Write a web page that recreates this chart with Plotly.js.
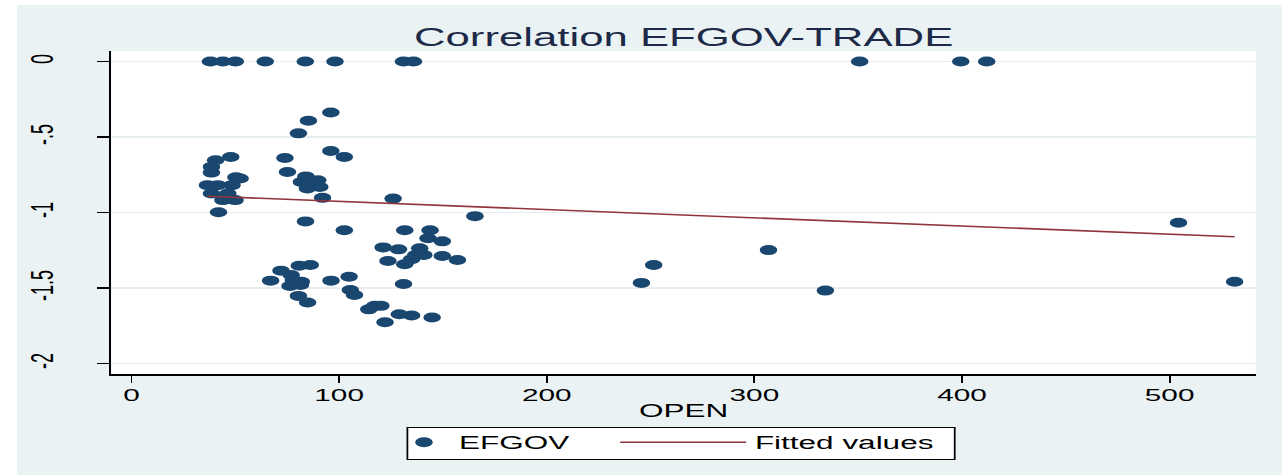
<!DOCTYPE html>
<html>
<head>
<meta charset="utf-8">
<script src="https://cdn.plot.ly/plotly-3.0.1.min.js"></script>
<style>
  html, body { margin: 0; padding: 0; background: #ffffff; overflow: hidden; }
  #chart {
    position: absolute; left: 17px; top: 5px;
    width: 723px; height: 470px;
    transform: scaleX(1.7497); transform-origin: 0 0;
  }
</style>
</head>
<body>
<div id="chart"></div>
<script>
// ---- data ----
const openVals = [
  38, 44, 50, 64.4, 83.7, 98, 131, 135.8, 350.7, 399.4, 411.9,
  96, 85.2, 80.4, 96, 102.5, 73.9, 47.8, 40.5, 38.5, 38.5,
  75.1, 50.3, 52.3, 84, 89.7, 81.8, 36.6, 41.5, 48.4, 84.7,
  90.7, 86.5, 38.5, 46.4, 92, 44, 49.9, 126, 41.9, 83.8,
  165.4, 102.5, 131.6, 143.8, 142.8, 149.7, 138.8, 136.9, 140.8, 121.2,
  128.6, 149.7, 157, 123.5, 131.6, 134.9, 86.1, 80.8, 72, 67,
  76.9, 77.9, 81.8, 76.3, 81.4, 96.1, 104.8, 105.4, 107.4, 80.4,
  84.8, 131, 114.3, 117.2, 120.1, 122.1, 129, 134.9, 144.8, 245.6,
  251.5, 306.8, 334.2, 504.3, 531.3
];
const efgovVals = [
  0, 0, 0, 0, 0, 0, 0, 0, 0, 0, 0,
  -0.337, -0.392, -0.475, -0.592, -0.632, -0.638, -0.632, -0.653, -0.697, -0.735,
  -0.731, -0.766, -0.774, -0.76, -0.785, -0.797, -0.818, -0.818, -0.818, -0.84,
  -0.83, -0.81, -0.873, -0.873, -0.902, -0.917, -0.917, -0.907, -0.997, -1.058,
  -1.023, -1.116, -1.116, -1.116, -1.17, -1.19, -1.236, -1.28, -1.28, -1.23,
  -1.243, -1.287, -1.313, -1.32, -1.342, -1.309, -1.347, -1.351, -1.384, -1.45,
  -1.413, -1.446, -1.457, -1.485, -1.479, -1.45, -1.424, -1.512, -1.545, -1.551,
  -1.595, -1.472, -1.64, -1.617, -1.617, -1.725, -1.672, -1.681, -1.694, -1.465,
  -1.347, -1.248, -1.516, -1.067, -1.457
];
const fitOpen = [36.6, 531.3];
const fitValues = [-0.891, -1.160];

const xTickVals = [0, 100, 200, 300, 400, 500];
const xTickText = ['0', '100', '200', '300', '400', '500'];
const yTickVals = [0, -0.5, -1, -1.5, -2];
const yTickText = ['0', '-.5', '-1', '-1.5', '-2'];

const seriesNames = ['EFGOV', 'Fitted values'];
const chartTitle = 'Correlation EFGOV-TRADE';
const xTitle = 'OPEN';

const FONT = 'Liberation Sans, Arial, Helvetica, sans-serif';

const traces = [
  {
    type: 'scatter', mode: 'markers', name: seriesNames[0],
    x: openVals, y: efgovVals,
    marker: { color: '#1a476f', size: 10, line: { width: 0 } },
    legend: 'legend', hoverinfo: 'skip'
  },
  {
    type: 'scatter', mode: 'lines', name: seriesNames[1],
    x: fitOpen, y: fitValues,
    line: { color: '#90353b', width: 1.6 },
    legend: 'legend2', hoverinfo: 'skip'
  }
];

const layout = {
  width: 723, height: 470,
  margin: { l: 54.47, r: 14.9, t: 45.5, b: 100.7, pad: 0 },
  paper_bgcolor: '#eaf2f3',
  plot_bgcolor: '#ffffff',
  font: { family: FONT, color: '#000000' },
  title: {
    text: chartTitle,
    font: { family: FONT, size: 25, color: '#1c2a48' },
    x: 0.5, xref: 'paper', xanchor: 'center',
    y: 0.932, yref: 'container', yanchor: 'middle'
  },
  xaxis: {
    range: [-9.64, 541.5], autorange: false,
    showgrid: false, zeroline: false,
    showline: true, linecolor: '#000000', linewidth: 1.5,
    ticks: 'outside', ticklen: 7, tickwidth: 1.1, tickcolor: '#000000',
    tickvals: xTickVals, ticktext: xTickText,
    tickfont: { family: FONT, size: 17, color: '#000000' },
    ticklabelstandoff: -2,
    title: { text: xTitle, font: { family: FONT, size: 18, color: '#000000' }, standoff: 0 }
  },
  yaxis: {
    range: [-2.068, 0.07], autorange: false,
    showgrid: true, gridcolor: '#e6eef1', gridwidth: 1.5,
    zeroline: false,
    showline: true, linecolor: '#000000', linewidth: 1.2,
    ticks: 'outside', ticklen: 7, tickwidth: 1.5, tickcolor: '#000000',
    tickvals: yTickVals, ticktext: yTickText, tickangle: -90,
    tickfont: { family: FONT, size: 18, color: '#000000' },
    ticklabelstandoff: 18
  },
  showlegend: true,
  legend: {
    orientation: 'v', x: 0.2425, xanchor: 'left', y: -0.2123, yanchor: 'middle',
    bgcolor: 'rgba(0,0,0,0)', borderwidth: 0, itemwidth: 30,
    font: { family: FONT, size: 18, color: '#000000' }
  },
  legend2: {
    orientation: 'v', x: 0.4369, xanchor: 'left', y: -0.2123, yanchor: 'middle',
    bgcolor: 'rgba(0,0,0,0)', borderwidth: 0, itemwidth: 72,
    font: { family: FONT, size: 18, color: '#000000' }
  },
  shapes: [
    {
      type: 'rect', xref: 'paper', yref: 'paper',
      x0: 0.2586, x1: 0.7369, y0: -0.2647, y1: -0.1658,
      line: { color: '#000000', width: 1 }, fillcolor: '#ffffff', layer: 'below'
    }
  ]
};

Plotly.newPlot('chart', traces, layout, { displayModeBar: false, staticPlot: true });
</script>
</body>
</html>
